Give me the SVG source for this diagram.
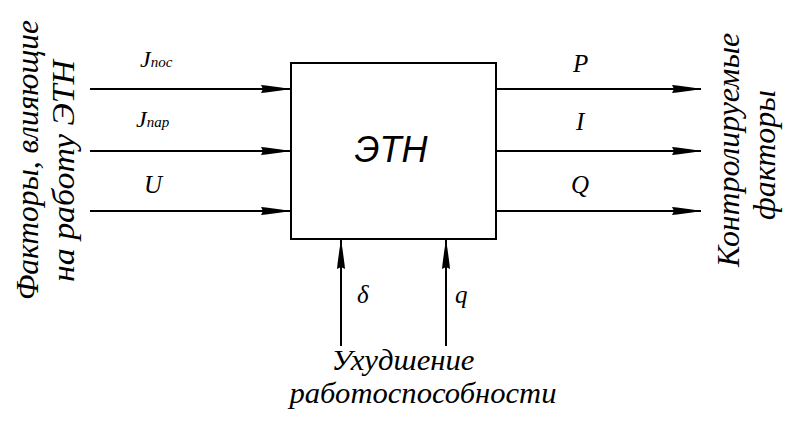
<svg xmlns="http://www.w3.org/2000/svg" width="791" height="422" viewBox="0 0 791 422">
<style>
.ln{stroke:#000;stroke-width:2;fill:none}
.t{font-family:"Liberation Serif",serif;font-style:italic;fill:#000}
.s{font-family:"Liberation Sans",sans-serif;font-style:italic;fill:#000}
</style>
<defs>
<marker id="ah" viewBox="0 0 30 10" refX="29" refY="5" markerWidth="30" markerHeight="10" markerUnits="userSpaceOnUse" orient="auto">
<path d="M0,1 L5,1.5 L20,3.5 L29,5 L20,6.5 L5,8.5 L0,9 L2,5 Z" fill="#000"/>
</marker>
</defs>
<rect width="791" height="422" fill="#fff"/>
<g id="etn">
<rect x="291" y="63" width="205" height="176" fill="#fff" stroke="#000" stroke-width="2"/>
<text class="s" x="391" y="162" font-size="36" text-anchor="middle">ЭТН</text>
</g>
<g id="connectors">
<line class="ln" x1="90" y1="89" x2="290" y2="89" marker-end="url(#ah)"/>
<line class="ln" x1="90" y1="151" x2="290" y2="151" marker-end="url(#ah)"/>
<line class="ln" x1="90" y1="211" x2="290" y2="211" marker-end="url(#ah)"/>
<line class="ln" x1="497" y1="89" x2="701" y2="89" marker-end="url(#ah)"/>
<line class="ln" x1="497" y1="151" x2="701" y2="151" marker-end="url(#ah)"/>
<line class="ln" x1="497" y1="211" x2="701" y2="211" marker-end="url(#ah)"/>
<line class="ln" x1="341" y1="346" x2="341" y2="240" marker-end="url(#ah)"/>
<line class="ln" x1="446" y1="346" x2="446" y2="240" marker-end="url(#ah)"/>
</g>
<g id="labels">
<text class="t" x="140" y="67" font-size="24">J<tspan font-size="15">пос</tspan></text>
<text class="t" x="136" y="127" font-size="24">J<tspan font-size="15">пар</tspan></text>
<text class="t" x="144" y="193" font-size="25">U</text>
<text class="t" x="573" y="72" font-size="25">P</text>
<text class="t" x="576" y="130" font-size="25">I</text>
<text class="t" x="571" y="193" font-size="25">Q</text>
<text class="t" x="357" y="303" font-size="25">δ</text>
<text class="t" x="455" y="303" font-size="25">q</text>
</g>
<g id="left-caption">
<text class="t" font-size="31" text-anchor="middle" transform="translate(38,160) rotate(-90)" textLength="280" lengthAdjust="spacingAndGlyphs">Факторы, влияющие</text>
<text class="t" font-size="31" text-anchor="middle" transform="translate(74,171) rotate(-90)" textLength="222" lengthAdjust="spacingAndGlyphs">на работу ЭТН</text>
</g>
<g id="right-caption">
<text class="t" font-size="31" text-anchor="middle" transform="translate(739,150) rotate(-90)" textLength="234" lengthAdjust="spacingAndGlyphs">Контролируемые</text>
<text class="t" font-size="31" text-anchor="middle" transform="translate(775,155) rotate(-90)" textLength="130" lengthAdjust="spacingAndGlyphs">факторы</text>
</g>
<g id="bottom-caption">
<text class="t" x="403" y="370" font-size="29" text-anchor="middle" textLength="143" lengthAdjust="spacingAndGlyphs">Ухудшение</text>
<text class="t" x="423" y="403" font-size="29" text-anchor="middle" textLength="267" lengthAdjust="spacingAndGlyphs">работоспособности</text>
</g>
</svg>
